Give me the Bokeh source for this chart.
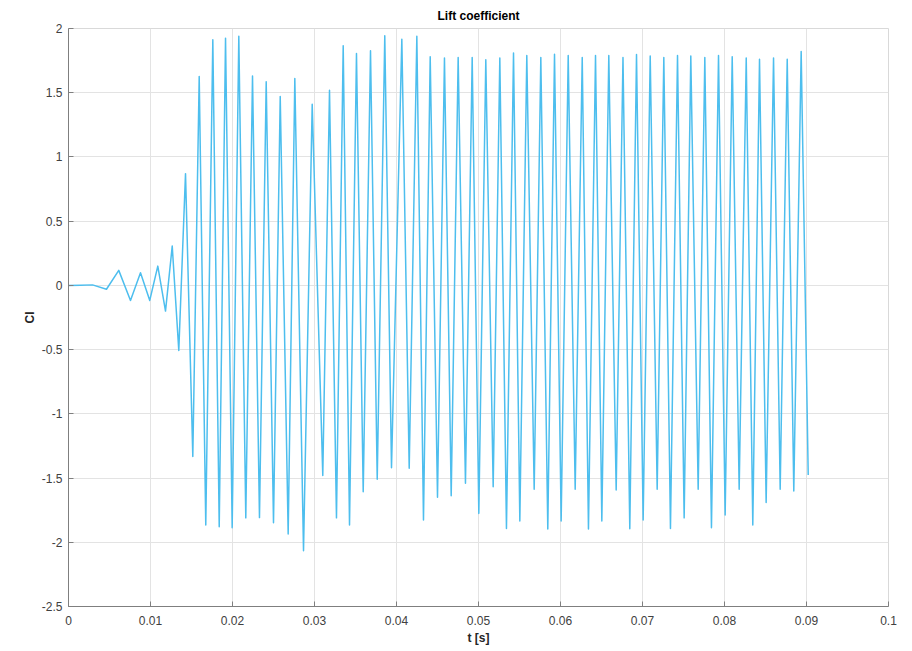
from bokeh.plotting import figure
from bokeh.models import FixedTicker, Range1d
from bokeh.embed import file_html
from bokeh.resources import INLINE

# Extrema of the lift coefficient signal (time in s)
t = [0.0, 0.00146, 0.00293, 0.00463, 0.00613, 0.00756, 0.00878, 0.00991, 0.01089, 0.01183,
     0.01265, 0.01345, 0.01427, 0.01516, 0.01594, 0.01674, 0.01760, 0.01838, 0.01915, 0.01996,
     0.02077, 0.02162, 0.02244, 0.02329, 0.02411, 0.02500, 0.02582, 0.02679, 0.02760, 0.02866,
     0.02972, 0.03101, 0.03183, 0.03268, 0.03350, 0.03427, 0.03512, 0.03594, 0.03683, 0.03765,
     0.03857, 0.03939, 0.04065, 0.04155, 0.04248, 0.04329, 0.04411, 0.04500, 0.04585, 0.04667,
     0.04752, 0.04841, 0.04923, 0.05004, 0.05089, 0.05179, 0.05260, 0.05341, 0.05427, 0.05504,
     0.05589, 0.05679, 0.05760, 0.05845, 0.05927, 0.06008, 0.06094, 0.06179, 0.06265, 0.06341,
     0.06427, 0.06504, 0.06589, 0.06679, 0.06762, 0.06845, 0.06927, 0.07008, 0.07094, 0.07179,
     0.07260, 0.07341, 0.07427, 0.07508, 0.07589, 0.07679, 0.07760, 0.07841, 0.07927, 0.08008,
     0.08094, 0.08179, 0.08265, 0.08345, 0.08427, 0.08508, 0.08598, 0.08679, 0.08765, 0.08845,
     0.08935, 0.09021]
cl = [0.0, 0.002, 0.004, -0.03, 0.117, -0.117, 0.099, -0.117, 0.15, -0.2,
      0.306, -0.506, 0.87, -1.333, 1.626, -1.865, 1.912, -1.88, 1.925, -1.886,
      1.94, -1.81, 1.63, -1.808, 1.585, -1.847, 1.47, -1.935, 1.61, -2.065,
      1.41, -1.48, 1.52, -1.81, 1.865, -1.865, 1.805, -1.606, 1.826, -1.51,
      1.943, -1.42, 1.917, -1.424, 1.94, -1.826, 1.78, -1.65, 1.77, -1.637,
      1.774, -1.541, 1.774, -1.775, 1.756, -1.567, 1.77, -1.892, 1.81, -1.834,
      1.79, -1.588, 1.774, -1.896, 1.80, -1.834, 1.79, -1.588, 1.774, -1.896,
      1.79, -1.834, 1.79, -1.593, 1.774, -1.894, 1.797, -1.826, 1.785, -1.588,
      1.774, -1.892, 1.79, -1.81, 1.785, -1.588, 1.774, -1.886, 1.79, -1.788,
      1.78, -1.588, 1.77, -1.865, 1.76, -1.69, 1.77, -1.588, 1.76, -1.60,
      1.82, -1.476]

x_ticks = [0, 0.01, 0.02, 0.03, 0.04, 0.05, 0.06, 0.07, 0.08, 0.09, 0.1]
x_tick_labels = ["0", "0.01", "0.02", "0.03", "0.04", "0.05", "0.06", "0.07", "0.08", "0.09", "0.1"]
y_ticks = [-2.5, -2, -1.5, -1, -0.5, 0, 0.5, 1, 1.5, 2]
y_tick_labels = ["-2.5", "-2", "-1.5", "-1", "-0.5", "0", "0.5", "1", "1.5", "2"]

title_text = "Lift coefficient"
x_label = "t [s]"
y_label = "Cl"

FONT = "Liberation Sans"

p = figure(frame_width=820, frame_height=578,
           x_range=Range1d(x_ticks[0], x_ticks[-1]), y_range=Range1d(y_ticks[0], y_ticks[-1]),
           output_backend="svg", toolbar_location=None,
           min_border_left=68, min_border_right=16,
           min_border_top=27, min_border_bottom=44,
           background_fill_color="white", border_fill_color="white")

p.line(t, cl, line_color="#4DBEEE", line_width=1.5, line_join="round")

p.title.text = title_text
p.title.align = "center"
p.title.text_font = FONT
p.title.text_font_size = "12px"
p.title.text_font_style = "bold"
p.title.text_color = "#000000"
p.title.standoff = 12
p.title.offset = 0

p.outline_line_color = "#d9d9d9"
p.outline_line_width = 1

for ax, ticks, labels in ((p.xaxis[0], x_ticks, x_tick_labels), (p.yaxis[0], y_ticks, y_tick_labels)):
    ax.ticker = FixedTicker(ticks=ticks)
    ax.major_label_overrides = {tk: lb for tk, lb in zip(ticks, labels)}
    ax.axis_line_color = "#7f7f7f"
    ax.major_tick_line_color = "#7f7f7f"
    ax.major_tick_in = 5
    ax.major_tick_out = 0
    ax.minor_tick_line_color = None
    ax.major_label_text_font = FONT
    ax.major_label_text_font_size = "12px"
    ax.major_label_text_color = "#404040"
    ax.axis_label_text_font = FONT
    ax.axis_label_text_font_size = "12px"
    ax.axis_label_text_font_style = "bold"
    ax.axis_label_text_color = "#262626"

p.xaxis.axis_label = x_label
p.yaxis.axis_label = y_label
p.xaxis.major_label_standoff = 9
p.yaxis.major_label_standoff = 6
p.xaxis.axis_label_standoff = 3
p.yaxis.axis_label_standoff = 2

p.xgrid.ticker = FixedTicker(ticks=x_ticks)
p.ygrid.ticker = FixedTicker(ticks=y_ticks)
p.grid.grid_line_color = "#e3e3e3"
p.grid.grid_line_width = 1

open("out.html", "w").write(file_html(p, INLINE))
